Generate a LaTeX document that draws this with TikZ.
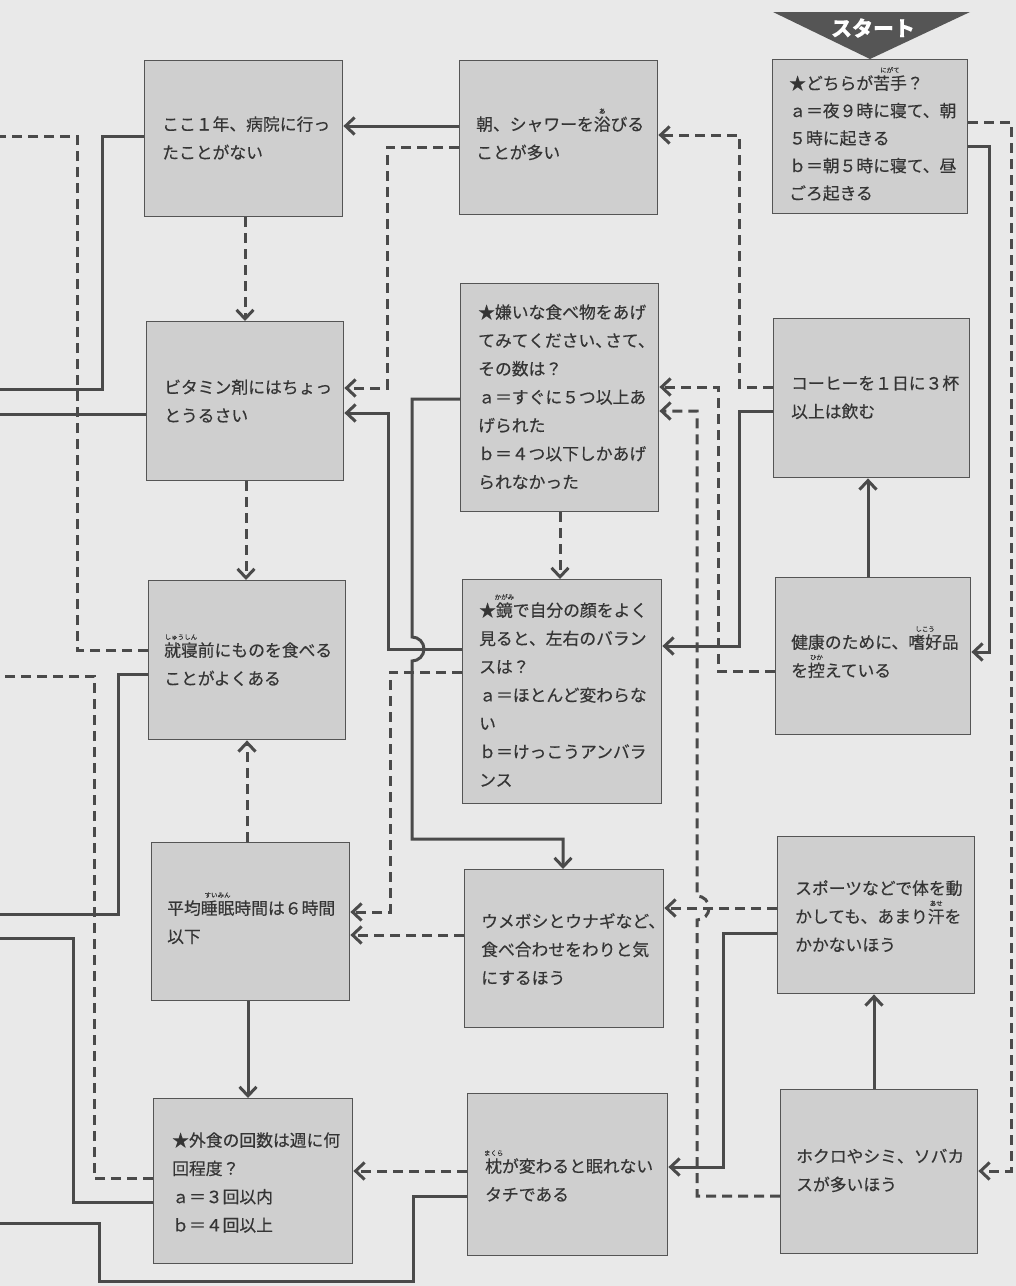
\documentclass[tikz,border=0pt]{standalone}
\usepackage{fontspec}
\newfontfamily\jp{Noto Sans CJK JP}[FakeBold=0.4]
\usetikzlibrary{arrows.meta}
\definecolor{bg}{HTML}{E9E9E9}
\definecolor{boxfill}{HTML}{CFCFCF}
\definecolor{boxline}{HTML}{555555}
\definecolor{ln}{HTML}{4A4A4A}
\definecolor{txt}{HTML}{353535}
\definecolor{startfill}{HTML}{555555}
\newcommand\rb[2]{\leavevmode\setbox0=\hbox{#1}\setbox2=\hbox{\fontsize{6.5pt}{6.5pt}\selectfont #2}\rlap{\raise17pt\hbox to\wd0{\hss\copy2\hss}}\box0}
\tikzset{
  qbox/.style={draw=boxline, fill=boxfill, line width=1.4pt, rectangle, anchor=north west, inner sep=0pt},
  qtext/.style={anchor=base west, align=left, inner sep=0pt, text=txt, font=\jp\fontsize{16.8pt}{28.3pt}\selectfont},
  qtextS/.style={qtext, font=\jp\fontsize{16.8pt}{27.5pt}\selectfont},
  sline/.style={draw=ln, line width=3pt},
  dline/.style={draw=ln, line width=3pt, dash pattern=on 10pt off 6pt, line cap=butt},
  arr/.style={-{Straight Barb[length=9pt,width=17pt]}},
}
\begin{document}
\begin{tikzpicture}[x=1pt,y=-1pt]
\fill[bg] (0,0) rectangle (1016,1286);
\useasboundingbox (0,0) rectangle (1016,1286);
% boxes
\node[qbox, minimum width=198pt, minimum height=156pt] (B1) at (144,60) {};
\node[qbox, minimum width=197pt, minimum height=159pt] (B2) at (146,321) {};
\node[qbox, minimum width=197pt, minimum height=159pt] (B3) at (148,580) {};
\node[qbox, minimum width=198pt, minimum height=158pt] (B4) at (151,842) {};
\node[qbox, minimum width=199pt, minimum height=165pt] (B5) at (153,1098) {};
\node[qbox, minimum width=198pt, minimum height=154pt] (C1) at (459,60) {};
\node[qbox, minimum width=198pt, minimum height=228pt] (C2) at (460,283) {};
\node[qbox, minimum width=199pt, minimum height=224pt] (C3) at (462,579) {};
\node[qbox, minimum width=199pt, minimum height=158pt] (C4) at (464,869) {};
\node[qbox, minimum width=200pt, minimum height=162pt] (C5) at (467,1093) {};
\node[qbox, minimum width=195pt, minimum height=154pt] (S) at (772,59) {};
\node[qbox, minimum width=196pt, minimum height=159pt] (D2) at (773,318) {};
\node[qbox, minimum width=195pt, minimum height=157pt] (D3) at (775,577) {};
\node[qbox, minimum width=197pt, minimum height=157pt] (D4) at (777,836) {};
\node[qbox, minimum width=197pt, minimum height=164pt] (D5) at (780,1089) {};
% texts (anchor = baseline of the last line)
\node[qtext] (tB1) at (162,158.8) {ここ１年、病院に行っ\\たことがない};
\node[qtext] (tB2) at (164,421.8) {ビタミン剤にはちょっ\\とうるさい};
\node[qtext] (tB3) at (164,684.8) {\rb{就寝}{しゅうしん}前にものを食べる\\ことがよくある};
\node[qtext] (tB4) at (167,942.8) {平均\rb{睡眠}{すいみん}時間は６時間\\以下};
\node[qtext] (tB5) at (172,1231.4) {★外食の回数は週に何\\回程度？\\ａ＝３回以内\\ｂ＝４回以上};
\node[qtext] (tC1) at (476,158.8) {朝、シャワーを\rb{浴}{あ}びる\\ことが多い};
\node[qtext] (tC2) at (478,488.3) {★嫌いな食べ物をあげ\\てみてください、\kern-7pt さて、\\その数は？\\ａ＝すぐに５つ以上あ\\げられた\\ｂ＝４つ以下しかあげ\\られなかった};
\node[qtext] (tC3) at (479,786.3) {★\rb{鏡}{かがみ}で自分の顔をよく\\見ると、左右のバラン\\スは？\\ａ＝ほとんど変わらな\\い\\ｂ＝けっこうアンバラ\\ンス};
\node[qtext] (tC4) at (481,984.1) {ウメボシとウナギなど、\\食べ合わせをわりと気\\にするほう};
\node[qtext] (tC5) at (485,1200.8) {\rb{枕}{まくら}が変わると眠れない\\タチである};
\node[qtextS] (tS) at (789,199.5) {★どちらが\rb{苦手}{にがて}？\\ａ＝夜９時に寝て、朝\\５時に起きる\\ｂ＝朝５時に寝て、昼\\ごろ起きる};
\node[qtext] (tD2) at (791,417.8) {コーヒーを１日に３杯\\以上は飲む};
\node[qtext] (tD3) at (791,676.8) {健康のために、\rb{嗜好}{しこう}品\\を\rb{控}{ひか}えている};
\node[qtext] (tD4) at (795,951.1) {スポーツなどで体を動\\かしても、あまり\rb{汗}{あせ}を\\かかないほう};
\node[qtext] (tD5) at (796,1190.8) {ホクロやシミ、ソバカ\\スが多いほう};
% start marker
\fill[startfill] (773,12) -- (970,12) -- (870,59) -- cycle;
\node[text=white, font=\jp\bfseries\fontsize{21pt}{21pt}\selectfont, inner sep=0pt] (start) at (873,28) {スタート};
% off-page ends
\coordinate (o1) at (0,389);
\coordinate (o2) at (0,136);
\coordinate (o3) at (0,414);
\coordinate (o4) at (0,914);
\coordinate (o5) at (0,676);
\coordinate (o6) at (0,938);
\coordinate (o7) at (0,1223);
% connectors
\draw[sline,arr] (C1.west |- 0,126) -- (B1.east |- 0,126);
\draw[dline,arr] (C1.west |- 0,147) -- (387,147) -- (387,388) -- (B2.east |- 0,388);
\draw[dline,arr] (B1.south -| 245,0) -- (B2.north -| 245,0);
\draw[sline] (B1.west |- 0,136) -- (102,136) -- (102,389) -- (o1);
\draw[dline] (B3.west |- 0,650) -- (77,650) -- (77,136) -- (o2);
\draw[sline] (B2.west |- 0,414) -- (o3);
\draw[dline,arr] (B2.south -| 246,0) -- (B3.north -| 246,0);
\draw[sline] (B3.west |- 0,674) -- (118,674) -- (118,914) -- (o4);
\draw[dline] (B5.west |- 0,1178) -- (94,1178) -- (94,676) -- (o5);
\draw[dline,arr] (B4.north -| 247,0) -- (B3.south -| 247,0);
\draw[sline,arr] (B4.south -| 248,0) -- (B5.north -| 248,0);
\draw[sline] (B5.west |- 0,1202) -- (73,1202) -- (73,938) -- (o6);
\draw[sline] (C5.west |- 0,1196) -- (413,1196) -- (413,1281) -- (99,1281) -- (99,1223) -- (o7);
\draw[dline,arr] (C5.west |- 0,1171) -- (B5.east |- 0,1171);
\draw[dline,arr] (C4.west |- 0,935) -- (B4.east |- 0,935);
\draw[dline,arr] (C3.west |- 0,672) -- (390,672) -- (390,912) -- (B4.east |- 0,912);
\draw[dline,arr] (C2.south -| 560,0) -- (C3.north -| 560,0);
\draw[sline,arr] (C2.west |- 0,399) -- (412,399) -- (412,637) arc[start angle=270,end angle=450,radius=12] -- (412,839) -- (563,839) -- (C4.north -| 563,0);
\draw[sline,arr] (C3.west |- 0,649) -- (388,649) -- (388,413) -- (B2.east |- 0,413);
\draw[dline,arr] (D2.west |- 0,387) -- (739,387) -- (739,135) -- (C1.east |- 0,135);
\draw[sline,arr] (D2.west |- 0,411) -- (739,411) -- (739,646) -- (C3.east |- 0,646);
\draw[dline,arr] (D3.west |- 0,671) -- (718,671) -- (718,387) -- (C2.east |- 0,387);
\draw[sline,arr] (D3.north -| 868,0) -- (D2.south -| 868,0);
\draw[sline,arr] (S.east |- 0,146) -- (989,146) -- (989,652) -- (D3.east |- 0,652);
\draw[dline,arr] (S.east |- 0,122) -- (1011,122) -- (1011,1171) -- (D5.east |- 0,1171);
\draw[dline,arr] (D4.west |- 0,908) -- (C4.east |- 0,908);
\draw[sline,arr] (D4.west |- 0,933) -- (723,933) -- (723,1167) -- (C5.east |- 0,1167);
\draw[sline,arr] (D5.north -| 874,0) -- (D4.south -| 874,0);
\draw[dline,arr] (D5.west |- 0,1196) -- (697,1196) -- (697,920) arc[start angle=90,end angle=-90,radius=12] -- (697,411) -- (C2.east |- 0,411);
\end{tikzpicture}
\end{document}
